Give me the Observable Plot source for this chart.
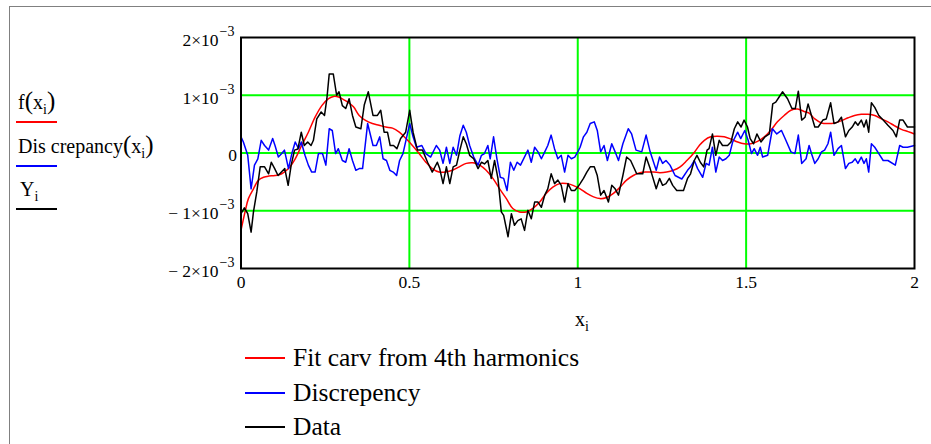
<!DOCTYPE html>
<html><head><meta charset="utf-8">
<script src="https://cdn.jsdelivr.net/npm/d3@7"></script>
<script src="https://cdn.jsdelivr.net/npm/@observablehq/plot@0.6"></script>
<style>
body{margin:0;background:#fff;}
#wrap{position:relative;width:931px;height:444px;overflow:hidden;font-family:"Liberation Serif","Times New Roman",serif;color:#000;background:#fff;}
#border{position:absolute;left:9px;top:6px;width:960px;height:480px;border-left:1px solid #808080;border-top:1px solid #808080;}
#chart{position:absolute;left:0;top:0;}
.lg{position:absolute;white-space:nowrap;line-height:30px;}
.ln{position:absolute;height:2px;}
.sb{font-size:70%;position:relative;top:5px;}
.par{font-size:125%;}
</style></head><body>
<div id="wrap">
  <div id="border"></div>
  <div id="chart"></div>
  <div class="lg" style="left:18px;top:86px;font-size:20px;">f<span class="par">(</span>x<span class="sb">i</span><span class="par">)</span></div>
  <div class="ln" style="left:16px;top:121px;width:41px;background:#ff0000;"></div>
  <div class="lg" style="left:18px;top:130px;font-size:20px;">Dis crepancy<span class="par">(</span>x<span class="sb">i</span><span class="par">)</span></div>
  <div class="ln" style="left:16px;top:165px;width:41px;background:#0000ff;"></div>
  <div class="lg" style="left:20px;top:174px;font-size:20px;">Y<span class="sb">i</span></div>
  <div class="ln" style="left:16px;top:208px;width:41px;background:#000000;"></div>
  <div class="lg" style="left:575px;top:304px;font-size:20px;">x<span class="sb">i</span></div>
  <div class="ln" style="left:245px;top:357px;width:40px;background:#ff0000;"></div>
  <div class="lg" style="left:293px;top:343px;font-size:25.5px;">Fit carv from 4th harmonics</div>
  <div class="ln" style="left:245px;top:392px;width:40px;background:#0000ff;"></div>
  <div class="lg" style="left:293px;top:378px;font-size:25.5px;">Discrepency</div>
  <div class="ln" style="left:245px;top:426px;width:40px;background:#000000;"></div>
  <div class="lg" style="left:293px;top:412px;font-size:25.5px;">Data</div>
</div>
<script>
// values in units of 1e-3
const UNIT = 1e-3;
const dataX = [0,0.01,0.02,0.03,0.037,0.047,0.057,0.07,0.082,0.09,0.10,0.11,0.12,0.13,0.14,0.149,0.159,0.169,0.179,0.188,0.198,0.208,0.215,0.225,0.238,0.248,0.255,0.262,0.274,0.284,0.291,0.301,0.311,0.321,0.331,0.341,0.356,0.366,0.378,0.392,0.405,0.415,0.425,0.435,0.443,0.453,0.463,0.474,0.489,0.501,0.511,0.524,0.539,0.554,0.568,0.583,0.59,0.60,0.61,0.62,0.63,0.64,0.65,0.66,0.669,0.679,0.691,0.704,0.714,0.723,0.733,0.743,0.753,0.763,0.773,0.78,0.793,0.803,0.812,0.822,0.832,0.842,0.852,0.862,0.872,0.882,0.892,0.902,0.911,0.921,0.931,0.941,0.951,0.961,0.971,0.981,0.991,1.0,1.007,1.017,1.027,1.037,1.049,1.058,1.068,1.078,1.091,1.101,1.111,1.121,1.134,1.145,1.157,1.175,1.193,1.203,1.215,1.233,1.243,1.252,1.262,1.272,1.282,1.294,1.314,1.326,1.335,1.346,1.354,1.364,1.374,1.384,1.39,1.40,1.41,1.42,1.43,1.445,1.455,1.465,1.475,1.485,1.494,1.504,1.512,1.522,1.532,1.544,1.556,1.569,1.579,1.588,1.598,1.608,1.623,1.636,1.646,1.655,1.665,1.675,1.684,1.694,1.704,1.714,1.728,1.738,1.751,1.761,1.773,1.783,1.795,1.805,1.815,1.824,1.832,1.842,1.85,1.857,1.864,1.872,1.882,1.894,1.907,1.921,1.936,1.946,1.956,1.966,1.979,2.0];
const dataY = [-1.05,-0.95,-1.05,-1.37,-1.02,-0.67,-0.24,-0.24,-0.36,-0.16,-0.27,-0.39,-0.33,-0.27,-0.56,-0.21,0.05,0.07,0.36,0.13,0.19,0.13,0.22,0.59,0.71,0.65,0.94,1.37,1.37,1.0,1.06,0.82,0.77,0.94,0.65,0.45,0.42,0.83,1.06,0.65,0.65,0.74,0.36,0.36,0.13,0.13,0.075,0.25,0.36,0.74,0.36,0.05,0.05,-0.16,-0.33,-0.16,-0.27,-0.53,-0.24,-0.53,-0.24,-0.21,0.05,0.28,0.16,-0.04,-0.1,-0.27,-0.16,-0.19,-0.13,-0.44,-0.13,-0.44,-1.02,-1.08,-1.45,-1.05,-1.25,-1.17,-1.14,-1.34,-0.99,-1.14,-0.85,-0.85,-0.94,-0.73,-0.62,-0.36,-0.53,-0.47,-0.56,-0.85,-0.53,-0.65,-0.65,-0.59,-0.53,-0.44,-0.33,-0.24,-0.24,-0.39,-0.73,-0.65,-0.85,-0.56,-0.62,-0.73,-0.39,-0.07,-0.13,-0.36,-0.36,-0.07,-0.27,-0.62,-0.44,-0.56,-0.53,-0.44,-0.56,-0.65,-0.65,-0.44,-0.36,-0.13,-0.04,-0.16,-0.24,0.05,0.075,0.33,-0.04,0.22,0.13,0.13,0.19,0.42,0.54,0.45,0.57,0.45,0.25,0.16,0.33,0.19,0.28,0.33,0.85,0.88,0.97,1.06,0.94,0.77,0.77,1.07,0.57,0.62,0.85,0.65,0.45,0.45,0.57,0.59,0.87,0.51,0.54,0.62,0.28,0.39,0.45,0.54,0.48,0.57,0.45,0.57,0.36,0.87,0.79,0.65,0.57,0.48,0.39,0.28,0.57,0.57,0.45,0.45];

const discX = [0,0.007,0.02,0.03,0.04,0.05,0.06,0.07,0.082,0.094,0.101,0.111,0.121,0.129,0.141,0.151,0.161,0.171,0.179,0.19,0.2,0.21,0.22,0.23,0.242,0.252,0.262,0.271,0.281,0.289,0.301,0.311,0.321,0.331,0.341,0.351,0.361,0.376,0.392,0.402,0.412,0.422,0.432,0.442,0.452,0.462,0.471,0.481,0.501,0.511,0.521,0.537,0.549,0.563,0.58,0.59,0.60,0.61,0.62,0.63,0.64,0.65,0.66,0.669,0.679,0.691,0.704,0.714,0.723,0.733,0.74,0.75,0.76,0.77,0.78,0.79,0.80,0.81,0.82,0.83,0.852,0.862,0.872,0.882,0.892,0.902,0.911,0.921,0.931,0.941,0.951,0.961,0.971,0.981,0.991,1.0,1.007,1.017,1.027,1.037,1.049,1.058,1.068,1.078,1.088,1.101,1.111,1.121,1.134,1.15,1.16,1.173,1.19,1.203,1.215,1.233,1.243,1.252,1.262,1.274,1.289,1.309,1.326,1.335,1.346,1.356,1.371,1.381,1.39,1.40,1.41,1.42,1.43,1.44,1.45,1.46,1.475,1.484,1.496,1.506,1.516,1.524,1.534,1.542,1.549,1.564,1.578,1.591,1.605,1.618,1.633,1.645,1.655,1.665,1.678,1.687,1.694,1.704,1.714,1.724,1.733,1.743,1.751,1.761,1.773,1.783,1.795,1.805,1.815,1.824,1.832,1.842,1.85,1.857,1.864,1.872,1.882,1.894,1.907,1.921,1.943,1.956,1.966,1.979,2.0];
const discY = [0.28,0.19,-0.04,-0.62,-0.21,-0.1,0.22,0.13,0.05,0.25,0.13,-0.07,-0.01,0.05,-0.27,-0.01,0.19,0.075,0.19,-0.04,-0.21,-0.33,-0.33,-0.01,-0.01,-0.21,0.42,0.39,-0.01,0.075,-0.13,-0.16,0.075,-0.13,-0.3,-0.27,-0.27,0.51,0.13,0.13,0.28,-0.1,-0.13,-0.3,-0.33,-0.39,-0.13,-0.01,0.51,0.28,0.1,0.13,-0.01,-0.07,0.13,0.05,-0.18,0.1,-0.18,0.1,-0.04,0.3,0.48,0.36,0.13,-0.07,-0.21,-0.04,-0.01,0.13,-0.1,0.28,-0.1,-0.42,-0.44,-0.65,-0.16,-0.3,-0.16,-0.21,0.05,-0.16,0.1,0.02,-0.1,0.02,0.13,0.31,0.075,-0.1,-0.04,-0.33,-0.04,-0.1,-0.07,0.02,0.1,0.28,0.36,0.51,0.54,0.39,0.02,0.13,-0.13,0.16,0.02,-0.13,0.16,0.42,0.33,0.05,0.02,0.31,0.02,-0.3,-0.07,-0.18,-0.13,-0.21,-0.39,-0.45,-0.3,-0.24,-0.13,-0.27,-0.42,-0.18,-0.21,0.1,-0.33,-0.07,-0.13,-0.1,-0.04,0.19,0.36,0.25,0.39,0.22,-0.01,0.075,-0.04,0.1,-0.07,-0.04,0.42,0.33,0.39,0.22,0.02,-0.01,0.31,-0.18,-0.1,0.13,-0.01,-0.18,-0.1,0.02,0.05,0.16,0.36,-0.04,0.075,0.13,-0.27,-0.18,-0.16,-0.1,-0.18,-0.07,-0.18,-0.1,-0.33,0.16,0.1,-0.01,-0.13,-0.13,-0.21,0.13,0.1,0.1,0.13];

const fitX = [0,0.012,0.022,0.037,0.052,0.067,0.082,0.101,0.121,0.141,0.161,0.18,0.2,0.22,0.24,0.26,0.275,0.29,0.309,0.334,0.351,0.371,0.39,0.41,0.43,0.45,0.47,0.49,0.509,0.529,0.549,0.568,0.588,0.608,0.628,0.648,0.669,0.689,0.709,0.728,0.748,0.768,0.788,0.807,0.827,0.847,0.867,0.887,0.906,0.926,0.946,0.966,0.986,1.007,1.027,1.047,1.066,1.086,1.106,1.126,1.145,1.165,1.185,1.205,1.225,1.244,1.264,1.284,1.304,1.324,1.346,1.361,1.376,1.395,1.415,1.435,1.455,1.475,1.494,1.514,1.534,1.554,1.573,1.593,1.613,1.633,1.653,1.672,1.687,1.704,1.724,1.743,1.763,1.783,1.803,1.822,1.842,1.862,1.882,1.902,1.921,1.941,1.961,1.981,2.0];
const fitY = [-1.34,-1.02,-0.79,-0.62,-0.47,-0.42,-0.40,-0.39,-0.36,-0.27,-0.1,0.13,0.36,0.62,0.82,0.94,0.98,0.97,0.91,0.8,0.65,0.56,0.51,0.48,0.45,0.43,0.36,0.25,0.13,-0.01,-0.16,-0.27,-0.33,-0.33,-0.3,-0.24,-0.18,-0.17,-0.21,-0.3,-0.44,-0.62,-0.79,-0.96,-1.02,-1.02,-0.96,-0.85,-0.7,-0.59,-0.53,-0.53,-0.56,-0.62,-0.7,-0.76,-0.79,-0.77,-0.7,-0.59,-0.47,-0.39,-0.34,-0.33,-0.33,-0.34,-0.33,-0.3,-0.24,-0.13,0.01,0.13,0.22,0.28,0.29,0.28,0.24,0.19,0.16,0.16,0.2,0.28,0.39,0.54,0.65,0.74,0.76,0.72,0.69,0.59,0.52,0.51,0.52,0.56,0.61,0.65,0.67,0.67,0.65,0.59,0.54,0.47,0.41,0.37,0.33];

const xTicks = [0, 0.5, 1, 1.5, 2];
const xTickLabels = ["0", "0.5", "1", "1.5", "2"];
const yTicks = [-2, -1, 0, 1, 2];
const yTickLabels = ["\u2212 2\u00d710", "\u2212 1\u00d710", "0", "1\u00d710", "2\u00d710"];
const yTickExp = ["\u22123", "\u22123", "", "\u22123", "\u22123"];
const xGrid = [0.5, 1, 1.5];
const yGrid = [-1, 0, 1];

const toRows = (xs, ys) => xs.map((x, i) => ({x, y: ys[i] * UNIT}));
const data = toRows(dataX, dataY);
const disc = toRows(discX, discY);
const fit = toRows(fitX, fitY);
const yTickRows = yTicks.map((t, i) => ({y: t * UNIT, label: yTickLabels[i], exp: yTickExp[i]}));
const xTickRows = xTicks.map((t, i) => ({x: t, label: xTickLabels[i]}));

const plotEl = Plot.plot({
  width: 931, height: 444,
  marginLeft: 240.5, marginRight: 17, marginTop: 37, marginBottom: 176,
  x: {domain: [0, 2], axis: null},
  y: {domain: [-2 * UNIT, 2 * UNIT], axis: null},
  style: {fontFamily: "'Liberation Serif', 'Times New Roman', serif", background: "transparent", color: "#000"},
  marks: [
    Plot.ruleX(xGrid, {x: d => d, stroke: "#00ff00", strokeWidth: 2}),
    Plot.ruleY(yGrid, {y: d => d * UNIT, stroke: "#00ff00", strokeWidth: 2}),
    Plot.line(fit, {x: "x", y: "y", stroke: "#ff0000", strokeWidth: 1.5, curve: "catmull-rom"}),
    Plot.line(disc, {x: "x", y: "y", stroke: "#0000ff", strokeWidth: 1.5}),
    Plot.line(data, {x: "x", y: "y", stroke: "#000000", strokeWidth: 1.5}),
    Plot.frame({stroke: "#000", strokeWidth: 2}),
    Plot.text(xTickRows, {x: "x", text: "label", frameAnchor: "bottom", dy: 19, fontSize: 17.5, fill: "#000"}),
    Plot.text(yTickRows.filter(d => d.exp), {y: "y", text: "label", frameAnchor: "left", dx: -22.5, dy: 3, textAnchor: "end", fontSize: 17.5, fill: "#000"}),
    Plot.text(yTickRows.filter(d => d.exp), {y: "y", text: "exp", frameAnchor: "left", dx: -21.5, dy: -6, textAnchor: "start", fontSize: 14, fill: "#000"}),
    Plot.text(yTickRows.filter(d => !d.exp), {y: "y", text: "label", frameAnchor: "left", dx: -4, dy: 2.5, textAnchor: "end", fontSize: 17.5, fill: "#000"})
  ]
});
document.getElementById("chart").appendChild(plotEl);
</script>
</body></html>
